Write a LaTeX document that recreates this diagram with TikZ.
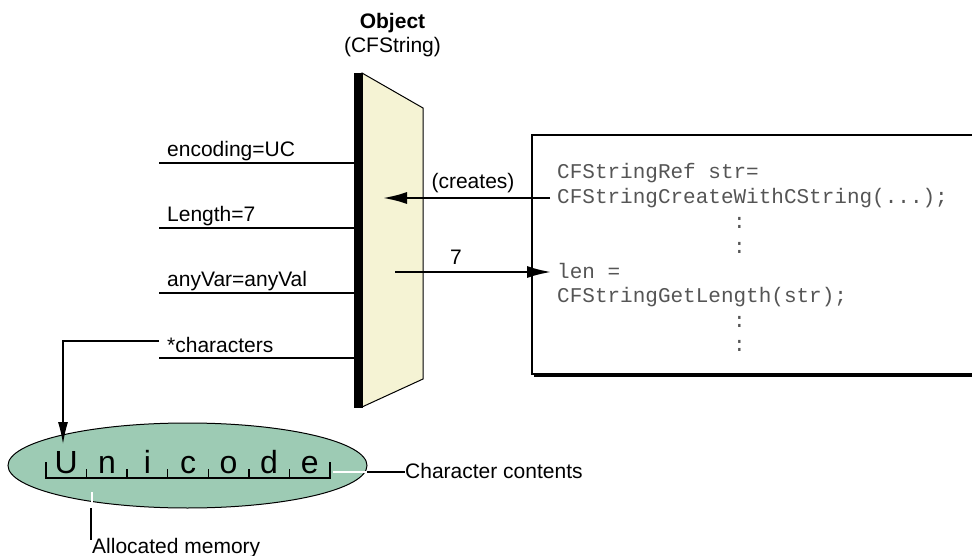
\documentclass[tikz,border=0pt]{standalone}
\usepackage{fontspec}
\setmainfont{Liberation Sans}
\setmonofont{Liberation Mono}
\usetikzlibrary{arrows.meta,shapes.geometric}
\definecolor{trapfill}{RGB}{245,243,212}
\definecolor{ellfill}{RGB}{157,203,180}
\definecolor{codegray}{RGB}{85,85,85}
\begin{document}
\begin{tikzpicture}[x=1pt,y=-1pt,
  lbl/.style={font=\fontsize{21}{24}\selectfont, inner sep=0pt, anchor=base west},
  ttl/.style={font=\fontsize{21}{24}\selectfont, inner sep=0pt, anchor=base},
  codeline/.style={font=\ttfamily\fontsize{21}{25}\selectfont, text=codegray, inner sep=0pt, anchor=base west},
  uni/.style={font=\fontsize{32}{36}\selectfont, inner sep=0pt, anchor=base},
  thinline/.style={line width=1.3pt},
  bigarrow/.style={line width=2pt, -{Latex[length=24pt,width=12pt]}},
  ptrarrow/.style={line width=1.3pt, -{Latex[length=22pt,width=10pt]}}]
\useasboundingbox (0,0) rectangle (972,556);

% title
\node[ttl, font=\bfseries\fontsize{21}{24}\selectfont] (obj) at (392.5,29) {Object};
\node[ttl] (cfs) at (392.5,53) {(CFString)};

% object body
\filldraw[fill=trapfill, draw=black, line width=1pt] (362,73) -- (423,108) -- (423,379) -- (362,407) -- cycle;
\node[fill=black, minimum width=9pt, minimum height=335pt, inner sep=0pt, anchor=north west] (bar) at (354,73) {};

% fields
\node[lbl] (f1) at (167,157) {encoding=UC};
\node[lbl] (f2) at (167,222) {Length=7};
\node[lbl] (f3) at (167,287) {anyVar=anyVal};
\node[lbl] (f4) at (167,352) {*characters};
\coordinate (u1) at (159,163);
\coordinate (u2) at (159,228);
\coordinate (u3) at (159,293);
\coordinate (u4) at (159,358);
\draw[thinline] (u1) -- (u1 -| bar.west);
\draw[thinline] (u2) -- (u2 -| bar.west);
\draw[thinline] (u3) -- (u3 -| bar.west);
\draw[thinline] (u4) -- (u4 -| bar.west);

% code box
\draw[thinline] (995,135) -- (532,135) -- (532,374) -- (995,374);
\draw[line width=2.5pt] (534,376) -- (995,376);
\node[codeline] (c1) at (557,179) {CFStringRef str=};
\node[codeline] (c2) at (557,204) {CFStringCreateWithCString(...);};
\node[codeline] (c3) at (733,229) {:};
\node[codeline] (c4) at (733,253.5) {:};
\node[codeline] (c5) at (557,278) {len =};
\node[codeline] (c6) at (557,302.5) {CFStringGetLength(str);};
\node[codeline] (c7) at (733,327) {:};
\node[codeline] (c8) at (733,351.5) {:};

% arrows
\coordinate (cr0) at (550,198);
\coordinate (cr1) at (383,198);
\draw[bigarrow] (cr0) -- (cr1);
\node[ttl] (creates) at (473,189) {(creates)};
\coordinate (sv0) at (395,272);
\coordinate (sv1) at (551,272);
\draw[bigarrow] (sv0) -- (sv1);
\node[ttl] (seven) at (456,265) {7};

% memory
\node[ellipse, draw=black, fill=ellfill, line width=1pt, minimum width=359pt, minimum height=85pt, inner sep=0pt] (mem) at (187.5,465.5) {};
\draw[thinline] (46,462) -- (46,478) -- (330,478) -- (330,462);
\foreach \x in {86.6,127.1,167.7,208.3,248.9,289.4} \draw[thinline] (\x,469) -- (\x,478);
\node[uni] (uU) at (66.3,473) {U};
\node[uni] (un) at (106.9,473) {n};
\node[uni] (ui) at (147.4,473) {i};
\node[uni] (uc) at (188,473) {c};
\node[uni] (uo) at (228.6,473) {o};
\node[uni] (ud) at (269.1,473) {d};
\node[uni] (ue) at (309.7,473) {e};

% pointer
\coordinate (p0) at (159,341);
\coordinate (p1) at (63,444);
\draw[ptrarrow] (p0) -- (p0 -| p1) -- (p1);

% annotations
\node[lbl, anchor=west] (cc) at (405,471) {Character contents};
\coordinate (cc0) at (333,472);
\coordinate (cc1) at (367,472);
\draw[thinline, white] (cc0) -- (cc1);
\draw[thinline] (cc1) -- (cc.west |- cc1);
\node[lbl] (am) at (92,553) {Allocated memory};
\coordinate (am0) at (92,492);
\coordinate (am1) at (92,508);
\draw[thinline, white] (am0) -- (am1);
\draw[thinline] (91,508) -- (91,540);
\end{tikzpicture}
\end{document}
